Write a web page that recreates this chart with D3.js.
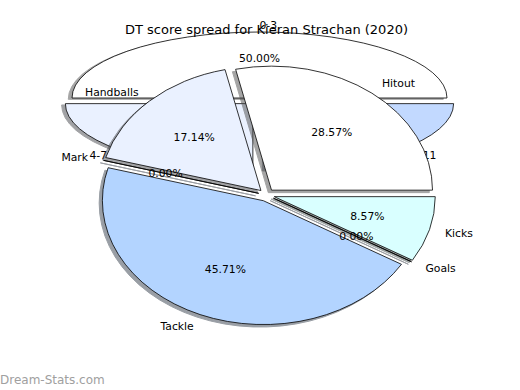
<!DOCTYPE html>
<html>
<head>
<meta charset="utf-8">
<script src="https://cdn.jsdelivr.net/npm/d3@7"></script>
<style>
  body { margin: 0; background: #fff; }
  text { font-family: "DejaVu Sans", sans-serif; }
</style>
</head>
<body>
<svg id="chart" width="520" height="390"></svg>
<script>
const backLabels = ["0-3", "4-7", "8-11"];
const backValues = [2, 1, 1];
const backColors = ["#ffffff", "#eaf1ff", "#c2d9ff"];
// only the first percentage of the back pie is visible, the rest sit under the front pie
const backPctShown = [true, false, false];

const frontLabels = ["Hitout", "Handballs", "Mark", "Tackle", "Goals", "Kicks"];
const frontValues = [10, 6, 0, 16, 0, 3];
const frontColors = ["#ffffff", "#eaf1ff", "#c2d9ff", "#b3d4ff", "#cce0ff", "#d9ffff"];

const titleText = "DT score spread for Kieran Strachan (2020)";

const svg = d3.select("#chart");

// pie drawn like matplotlib: starts at 3 o'clock, counter-clockwise, exploded, with shadow
function drawPie(labels, values, colors, pctShown, geo) {
  const g = svg.append("g");
  const x = d3.scaleLinear().domain([-1, 1]).range([geo.cx - geo.sx, geo.cx + geo.sx]);
  const y = d3.scaleLinear().domain([-1, 1]).range([geo.cy + geo.sy, geo.cy - geo.sy]);
  const total = d3.sum(values);

  const pie = d3.pie().sort(null).value(d => d.value)
    .startAngle(Math.PI / 2).endAngle(Math.PI / 2 - 2 * Math.PI);
  const arcs = pie(values.map((v, i) => ({ value: v, label: labels[i], color: colors[i], pct: pctShown[i] })));
  const arc = d3.arc().innerRadius(0).outerRadius(1);

  arcs.forEach(a => {
    const m = (a.startAngle + a.endAngle) / 2;
    a.theta = Math.PI / 2 - m;
    a.ox = geo.explode * Math.cos(a.theta);
    a.oy = geo.explode * Math.sin(a.theta);
  });

  const scaleOf = (dx, dy) =>
    `translate(${x(dx)},${y(dy)}) scale(${geo.sx},${geo.sy})`;
  const dark = a => {
    const c = d3.rgb(a.data.color);
    return d3.rgb(c.r * 0.3, c.g * 0.3, c.b * 0.3);
  };

  // shadows first
  g.selectAll(".shadow")
    .data(arcs)
    .enter()
    .append("path")
    .attr("class", "shadow")
    .attr("transform", a => scaleOf(a.ox - 0.02, a.oy - 0.02))
    .attr("d", arc)
    .attr("fill", dark)
    .attr("stroke", dark)
    .attr("stroke-width", 1)
    .attr("vector-effect", "non-scaling-stroke")
    .attr("opacity", 0.5);

  g.selectAll(".wedge")
    .data(arcs)
    .enter()
    .append("path")
    .attr("class", "wedge")
    .attr("transform", a => scaleOf(a.ox, a.oy))
    .attr("d", arc)
    .attr("fill", a => a.data.color)
    .attr("stroke", "#000")
    .attr("stroke-width", 0.8)
    .attr("vector-effect", "non-scaling-stroke");

  arcs.forEach(a => {
    const xt = a.ox + 1.1 * Math.cos(a.theta);
    const yt = a.oy + 1.1 * Math.sin(a.theta);
    g.append("text")
      .attr("x", x(xt))
      .attr("y", y(yt))
      .attr("dy", "0.35em")
      .attr("text-anchor", xt > 0 ? "start" : "end")
      .attr("font-size", "10.8px")
      .attr("fill", "#000")
      .text(a.data.label);

    if (!a.data.pct) return;
    const xp = a.ox + 0.6 * Math.cos(a.theta);
    const yp = a.oy + 0.6 * Math.sin(a.theta);
    g.append("text")
      .attr("x", x(xp))
      .attr("y", y(yp))
      .attr("dy", "0.35em")
      .attr("text-anchor", "middle")
      .attr("font-size", "10.8px")
      .attr("fill", "#000")
      .text((a.data.value / total * 100).toFixed(2) + "%");
  });
}

drawPie(backLabels, backValues, backColors, backPctShown,
  { cx: 259.5, cy: 101.3, sx: 187.5, sy: 66, explode: 0.05 });

drawPie(frontLabels, frontValues, frontColors, frontValues.map(() => true),
  { cx: 266.5, cy: 195, sx: 161, sy: 124, explode: 0.05 });

svg.append("text")
  .attr("x", 266.5)
  .attr("y", 34)
  .attr("text-anchor", "middle")
  .attr("font-size", "13px")
  .attr("fill", "#000")
  .text(titleText);

svg.append("text")
  .attr("x", 0)
  .attr("y", 384)
  .attr("font-size", "12px")
  .attr("fill", "#a0a0a0")
  .text("Dream-Stats.com");
</script>
</body>
</html>
